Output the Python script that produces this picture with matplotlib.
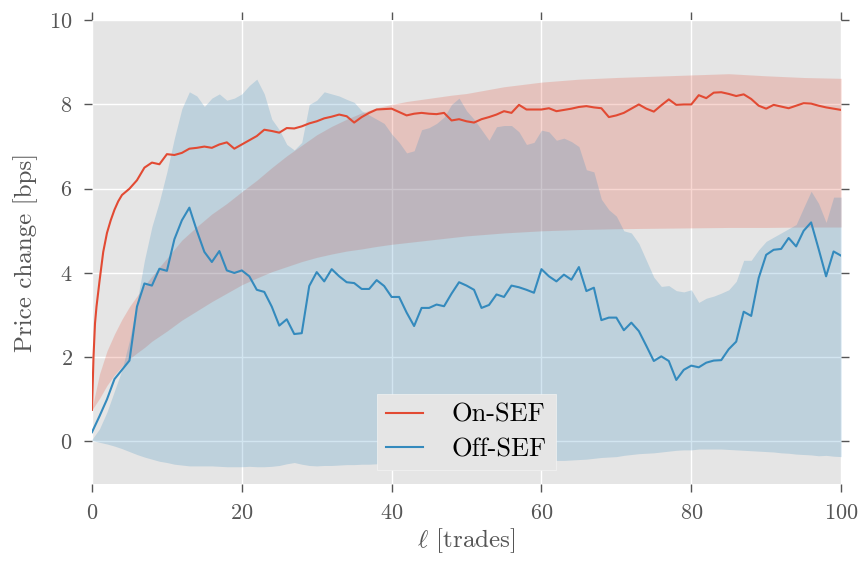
import matplotlib
matplotlib.use("Agg")
import matplotlib.pyplot as plt
import numpy as np

plt.style.use("ggplot")
plt.rcParams["font.family"] = "cmr10"
plt.rcParams["mathtext.fontset"] = "cm"
plt.rcParams["axes.formatter.use_mathtext"] = True
plt.rcParams["axes.unicode_minus"] = False

# On-SEF mean price change
on_x = [0, 0.2, 0.4, 0.6, 0.8, 1, 1.5, 2, 2.5, 3, 3.5, 4] + list(range(5, 101))
on_y = [0.75, 2.0, 2.8, 3.2, 3.5, 3.8, 4.5, 4.95, 5.25, 5.5, 5.7, 5.85,
        6.0, 6.2, 6.5, 6.62, 6.58, 6.82, 6.8, 6.85, 6.95, 6.97,
        7.0, 6.97, 7.05, 7.1, 6.95, 7.05, 7.15, 7.25, 7.4, 7.37,
        7.33, 7.44, 7.43, 7.48, 7.55, 7.6, 7.67, 7.71, 7.76, 7.72,
        7.57, 7.7, 7.8, 7.88, 7.89, 7.9, 7.82, 7.74, 7.78, 7.8,
        7.78, 7.77, 7.8, 7.62, 7.65, 7.6, 7.57, 7.65, 7.7, 7.76,
        7.84, 7.8, 7.99, 7.88, 7.88, 7.88, 7.91, 7.84, 7.87, 7.9,
        7.94, 7.96, 7.93, 7.91, 7.7, 7.74, 7.8, 7.9, 8.0, 7.9,
        7.83, 7.98, 8.12, 7.99, 8.0, 8.0, 8.22, 8.15, 8.28, 8.29,
        8.25, 8.2, 8.24, 8.13, 7.97, 7.9, 7.99, 7.95, 7.91, 7.97,
        8.03, 8.02, 7.97, 7.93, 7.9, 7.87]

on_band_x = [0, 1, 2, 3, 4, 5, 6, 7, 8, 9, 10, 12, 14, 16, 18, 20, 22, 24, 26, 28,
             30, 32, 34, 36, 38, 40, 42, 44, 46, 48, 50, 55, 60, 65, 70, 75, 80,
             85, 90, 95, 100]
on_hi = [0.78, 1.6, 2.15, 2.55, 2.9, 3.2, 3.45, 3.7, 3.92, 4.14, 4.35, 4.78, 5.1,
         5.4, 5.65, 5.93, 6.2, 6.5, 6.78, 7.03, 7.28, 7.48, 7.65, 7.8, 7.92, 8.0,
         8.07, 8.12, 8.17, 8.22, 8.26, 8.42, 8.53, 8.6, 8.64, 8.67, 8.7, 8.73,
         8.68, 8.64, 8.62]
on_lo = [0.75, 1.02, 1.33, 1.58, 1.78, 1.96, 2.1, 2.23, 2.38, 2.5, 2.62, 2.88, 3.1,
         3.32, 3.52, 3.72, 3.88, 4.03, 4.15, 4.27, 4.37, 4.45, 4.52, 4.57, 4.63,
         4.68, 4.72, 4.76, 4.8, 4.84, 4.88, 4.95, 5.0, 5.03, 5.05, 5.06, 5.07,
         5.08, 5.08, 5.09, 5.09]

# Off-SEF mean price change
off_x = list(range(0, 101))
off_y = [0.22, 0.6, 1.0, 1.48, 1.7, 1.92, 3.2, 3.75, 3.7, 4.1,
         4.05, 4.8, 5.25, 5.55, 5.0, 4.5, 4.26, 4.52, 4.06, 4.0,
         4.06, 3.92, 3.6, 3.55, 3.2, 2.75, 2.9, 2.55, 2.57, 3.69,
         4.02, 3.8, 4.09, 3.92, 3.78, 3.76, 3.62, 3.62, 3.83, 3.69,
         3.43, 3.43, 3.06, 2.74, 3.17, 3.17, 3.25, 3.21, 3.51, 3.78,
         3.7, 3.6, 3.17, 3.24, 3.49, 3.43, 3.7, 3.66, 3.6, 3.53,
         4.09, 3.92, 3.8, 3.96, 3.84, 4.14, 3.57, 3.65, 2.88, 2.94,
         2.94, 2.64, 2.82, 2.62, 2.27, 1.91, 2.02, 1.91, 1.46, 1.7,
         1.8, 1.76, 1.87, 1.92, 1.93, 2.19, 2.37, 3.08, 2.98, 3.88,
         4.43, 4.55, 4.57, 4.83, 4.63, 5.0, 5.2, 4.57, 3.92, 4.51,
         4.41]
off_hi = [0.05, 0.3, 0.7, 1.2, 1.7, 2.4, 3.3, 4.3, 5.1, 5.7,
          6.4, 7.2, 7.9, 8.3, 8.2, 7.95, 8.15, 8.25, 8.1, 8.15,
          8.25, 8.45, 8.6, 8.25, 7.65, 7.4, 7.05, 6.92, 7.1, 8.0,
          8.1, 8.3, 8.25, 8.2, 8.12, 8.05, 7.85, 7.75, 7.65, 7.55,
          7.3, 7.1, 6.85, 6.9, 7.4, 7.45, 7.55, 7.7, 8.0, 8.15,
          7.85, 7.65, 7.4, 7.15, 7.47, 7.5, 7.5, 7.35, 7.05, 7.1,
          7.39, 7.35, 7.15, 7.2, 7.12, 7.0, 6.45, 6.4, 5.75, 5.5,
          5.35, 5.0, 4.95, 4.7, 4.3, 3.9, 3.68, 3.7, 3.58, 3.55,
          3.6, 3.3, 3.4, 3.45, 3.52, 3.6, 3.8, 4.3, 4.3, 4.55,
          4.75, 4.85, 4.95, 5.05, 5.15, 5.55, 5.94, 5.65, 5.2, 5.8,
          5.8]
off_lo = [0.02, -0.02, -0.06, -0.11, -0.17, -0.24, -0.31, -0.37, -0.42, -0.47,
          -0.5, -0.54, -0.56, -0.58, -0.58, -0.58, -0.58, -0.59, -0.6, -0.6,
          -0.6, -0.59, -0.6, -0.6, -0.59, -0.57, -0.53, -0.5, -0.54, -0.57,
          -0.58, -0.57, -0.57, -0.56, -0.55, -0.55, -0.54, -0.54, -0.53, -0.52,
          -0.52, -0.51, -0.5, -0.5, -0.49, -0.48, -0.47, -0.47, -0.46, -0.45,
          -0.45, -0.44, -0.44, -0.43, -0.43, -0.44, -0.44, -0.45, -0.45, -0.46,
          -0.46, -0.46, -0.45, -0.45, -0.44, -0.43, -0.42, -0.4, -0.38, -0.37,
          -0.36, -0.33, -0.31, -0.29, -0.28, -0.27, -0.25, -0.23, -0.21, -0.2,
          -0.2, -0.18, -0.18, -0.18, -0.18, -0.19, -0.2, -0.21, -0.22, -0.23,
          -0.24, -0.25, -0.27, -0.28, -0.3, -0.31, -0.32, -0.34, -0.33, -0.35,
          -0.36]

red = "#E24A33"
blue = "#348ABD"

fig = plt.figure(figsize=(8.63, 5.61), dpi=100)
ax = fig.add_axes([0.1066, 0.138, 0.868, 0.826])
ax.set_facecolor("#E5E5E5")

ax.fill_between(on_band_x, on_lo, on_hi, color=red, alpha=0.22, lw=0)
ax.fill_between(off_x, off_lo, off_hi, color=blue, alpha=0.22, lw=0)
ax.plot(on_x, on_y, color=red, lw=1.5, label="On-SEF")
ax.plot(off_x, off_y, color=blue, lw=1.5, label="Off-SEF")

ax.set_xlim(0, 100)
ax.set_ylim(-1, 10)
ax.set_xticks([0, 20, 40, 60, 80, 100])
ax.set_yticks([0, 2, 4, 6, 8, 10])
ax.grid(True, color="white", lw=1)
for s in ax.spines.values():
    s.set_visible(False)
ax.tick_params(direction="out", top=True, right=True, length=6, width=1,
               color="#555555", labelcolor="#555555", labelsize=16, pad=8)

ax.set_xlabel(r"$\ell$ [trades]", fontsize=18, color="#555555", labelpad=3)
ax.set_ylabel("Price change [bps]", fontsize=18, color="#555555", labelpad=8)

leg = ax.legend(loc="lower center", fontsize=19, handlelength=1.4,
                handletextpad=1.1, fancybox=False, framealpha=1,
                borderaxespad=0.5, borderpad=0.35, labelspacing=0.4)
leg.get_frame().set_facecolor("#E5E5E5")
leg.get_frame().set_edgecolor("#F2F2F2")

fig.savefig("out.png", dpi=100)
